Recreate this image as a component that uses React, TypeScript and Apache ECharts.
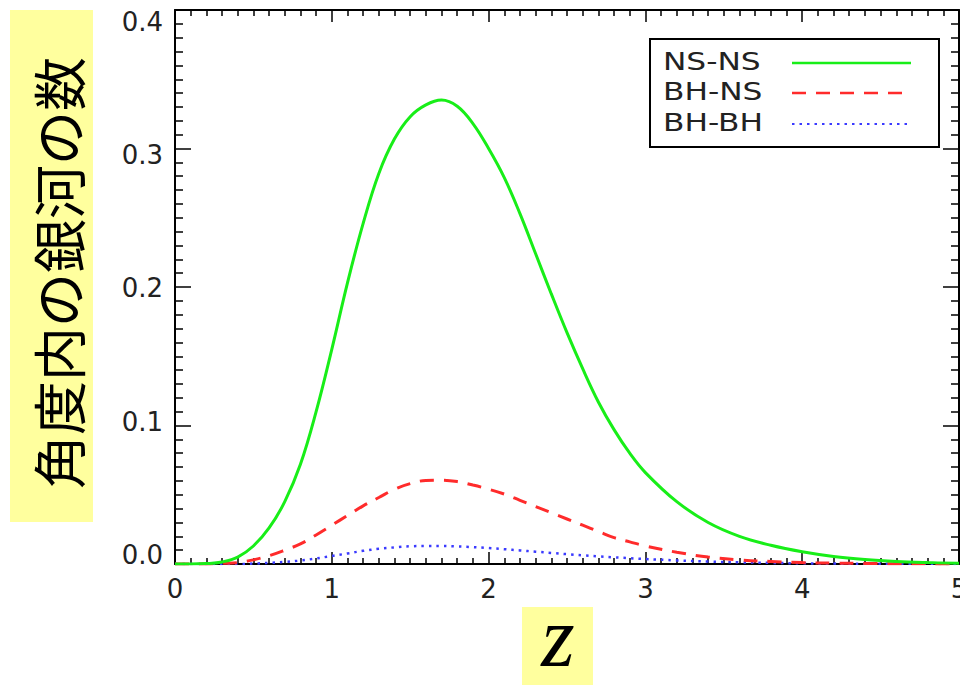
import React, { useEffect, useRef } from 'react';
import * as echarts from 'echarts';

const zGrid = [0, 0.1, 0.2, 0.3, 0.4, 0.5, 0.6, 0.7, 0.8, 0.9, 1.0, 1.1, 1.2, 1.3, 1.4, 1.5, 1.6, 1.7, 1.8, 1.9, 2.0, 2.1, 2.2, 2.3, 2.4, 2.5, 2.6, 2.7, 2.8, 2.9, 3.0, 3.2, 3.4, 3.6, 3.8, 4.0, 4.2, 4.4, 4.6, 4.8, 5.0];
const nsns = [0, 0, 0.0003, 0.0015, 0.005, 0.013, 0.026, 0.045, 0.072, 0.11, 0.155, 0.203, 0.246, 0.282, 0.307, 0.323, 0.3315, 0.335, 0.3305, 0.318, 0.3, 0.279, 0.253, 0.224, 0.195, 0.167, 0.141, 0.117, 0.097, 0.08, 0.066, 0.045, 0.03, 0.02, 0.0135, 0.0088, 0.0054, 0.0032, 0.0018, 0.001, 0.0005];
const bhns = [0, 0, 0, 0.0005, 0.001, 0.003, 0.006, 0.01, 0.0145, 0.021, 0.028, 0.035, 0.042, 0.048, 0.054, 0.058, 0.0603, 0.0605, 0.0595, 0.057, 0.054, 0.0505, 0.046, 0.0415, 0.037, 0.0325, 0.028, 0.0235, 0.019, 0.016, 0.013, 0.0085, 0.005, 0.003, 0.0018, 0.001, 0.0006, 0.0004, 0.0002, 0.0001, 0];
const bhbh = [0, 0, 0, 0, 0, 0.0003, 0.0008, 0.0015, 0.0025, 0.004, 0.0058, 0.0076, 0.0095, 0.011, 0.012, 0.0128, 0.013, 0.013, 0.0127, 0.0122, 0.0115, 0.0107, 0.0098, 0.0089, 0.008, 0.0071, 0.0063, 0.0055, 0.0048, 0.0042, 0.0036, 0.0026, 0.0018, 0.0012, 0.0008, 0.0005, 0.0003, 0.0002, 0.0001, 0.0001, 0];
const seriesNames = ['NS-NS', 'BH-NS', 'BH-BH'];
const yTickLabels = [0, 0.1, 0.2, 0.3, 0.4];
const yTitle = '角度内の銀河の数';
const xTitle = 'z';

const colors = ['#18ee18', '#ff2b2b', '#3a3aff'];
const dashes: any[] = ['solid', [14, 10], [2.5, 5]];
const widths = [3, 3, 2.5];

export default function App() {
  const ref = useRef<HTMLDivElement>(null);
  useEffect(() => {
    document.body.style.margin = '0';
    const chart = echarts.init(ref.current!, null, { renderer: 'svg' });
    const axisFont = 'DejaVu Sans';
    const lineColor = '#000';
    const frameX = {
      type: 'value', min: 0, max: 5, interval: 1,
      axisLine: { show: true, onZero: false, lineStyle: { color: lineColor, width: 2 } },
      axisTick: { show: true, inside: true, length: 12, lineStyle: { color: lineColor, width: 1.5 } },
      minorTick: { show: true, splitNumber: 10, length: 6, lineStyle: { color: lineColor, width: 1.5 } },
      splitLine: { show: false },
      minorSplitLine: { show: false },
    };
    const frameY = {
      type: 'value', min: 0, max: 0.4, interval: 0.1,
      axisLine: { show: true, onZero: false, lineStyle: { color: lineColor, width: 2 } },
      axisTick: { show: true, inside: true, length: 16, lineStyle: { color: lineColor, width: 1.5 } },
      minorTick: { show: true, splitNumber: 10, length: 8, lineStyle: { color: lineColor, width: 1.5 } },
      splitLine: { show: false },
      minorSplitLine: { show: false },
    };
    const series = [nsns, bhns, bhbh].map((vals, i) => ({
      type: 'line',
      name: seriesNames[i],
      xAxisIndex: 0,
      yAxisIndex: 0,
      data: zGrid.map((z, j) => [z, vals[j]]),
      smooth: 0.4,
      showSymbol: false,
      symbol: 'none',
      lineStyle: { color: colors[i], width: widths[i], type: dashes[i], cap: 'butt' },
      z: 3 - i,
    }));
    const legendX = 650, legendY = 39, rowYs = [62, 92, 123];
    const legendChildren: any[] = [
      { type: 'rect', shape: { x: legendX, y: legendY, width: 289, height: 108 }, style: { fill: '#fff', stroke: '#000', lineWidth: 2 } },
    ];
    seriesNames.forEach((n, i) => {
      legendChildren.push({
        type: 'text', x: 663, y: rowYs[i], scaleX: 1.25,
        style: { text: n, font: `25px "${axisFont}"`, fill: '#222', align: 'left', verticalAlign: 'middle' },
      });
      legendChildren.push({
        type: 'line', shape: { x1: 792, y1: rowYs[i] + 1, x2: 911, y2: rowYs[i] + 1 },
        style: { stroke: colors[i], lineWidth: widths[i] - 0.5, lineDash: dashes[i] === 'solid' ? null : dashes[i] },
      });
    });
    chart.setOption({
      animation: false,
      backgroundColor: '#fff',
      grid: { left: 175, right: 1, top: 10, bottom: 121, containLabel: false, outerBoundsMode: 'none' },
      xAxis: [
        {
          ...frameX, position: 'bottom',
          axisLabel: { show: true, margin: 12, color: '#222', fontFamily: axisFont, fontSize: 26 },
        },
        { ...frameX, position: 'top', axisLabel: { show: false } },
      ],
      yAxis: [
        { ...frameY, position: 'left', axisLabel: { show: false } },
        { ...frameY, position: 'right', axisLabel: { show: false } },
        {
          type: 'value', position: 'left', min: -0.00675, max: 0.409,
          axisLine: { show: false }, axisTick: { show: false }, splitLine: { show: false },
          axisLabel: {
            show: true, margin: 12, color: '#222', fontFamily: axisFont, fontSize: 26,
            customValues: yTickLabels, formatter: (v: number) => v.toFixed(1),
          },
        },
      ],
      series,
      graphic: [
        { type: 'rect', shape: { x: 10, y: 10, width: 83, height: 512 }, style: { fill: '#ffff9e' }, z: 0 },
        {
          type: 'text', x: 57, y: 273, rotation: Math.PI / 2,
          style: { text: yTitle, font: '54px "Noto Sans CJK JP"', fill: '#000', align: 'center', verticalAlign: 'middle' },
        },
        { type: 'rect', shape: { x: 522, y: 607, width: 71, height: 78 }, style: { fill: '#ffff9e' }, z: 0 },
        {
          type: 'text', x: 558, y: 637,
          style: { text: xTitle, font: 'italic 86px "Liberation Serif"', lineHeight: 56, fill: '#000', align: 'center', verticalAlign: 'middle' },
        },
        { type: 'group', children: legendChildren, z: 10 },
      ],
    });
    return () => chart.dispose();
  }, []);
  return <div ref={ref} style={{ width: 960, height: 685 }} />;
}
